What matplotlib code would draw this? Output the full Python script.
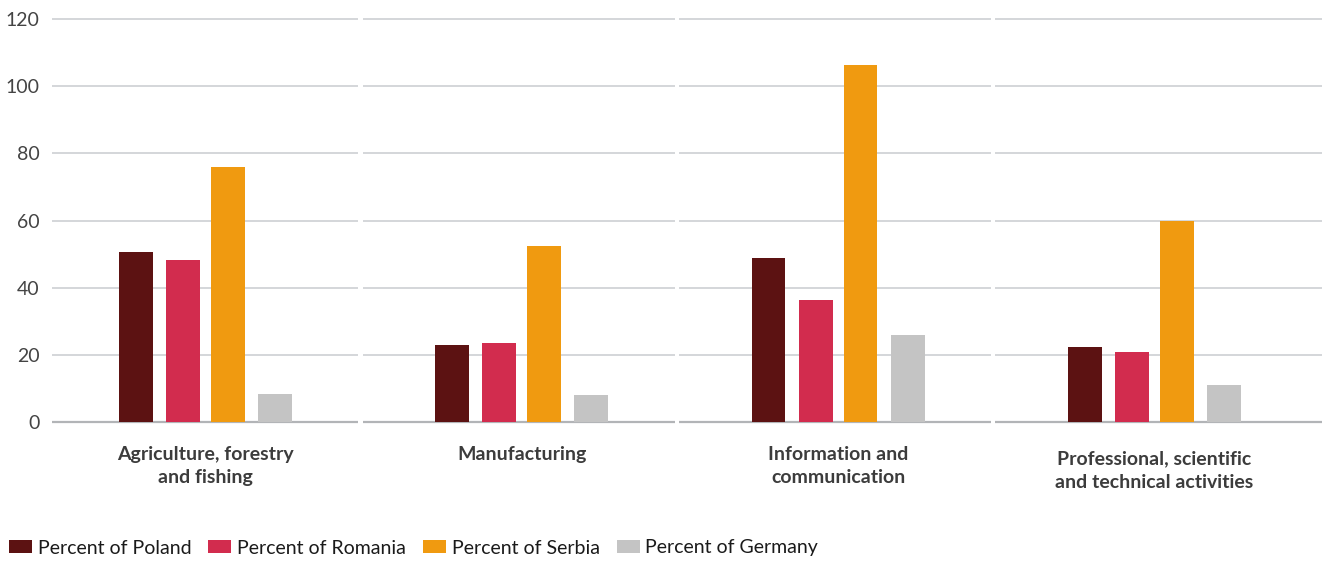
import matplotlib.pyplot as plt
import numpy as np
from matplotlib.transforms import ScaledTranslation

plt.rcParams["font.family"] = ["Lato", "DejaVu Sans"]

sectors = [
    "Agriculture, forestry\nand fishing",
    "Manufacturing",
    "Information and\ncommunication",
    "Professional, scientific\nand technical activities",
]
countries = ["Percent of Poland", "Percent of Romania", "Percent of Serbia", "Percent of Germany"]
poland = [50.6, 22.9, 48.8, 22.4]
romania = [48.2, 23.5, 36.3, 20.8]
serbia = [75.9, 52.4, 106.3, 59.9]
germany = [8.3, 8.0, 25.9, 11.0]
yticks = [0, 20, 40, 60, 80, 100, 120]

colors = ["#5c1212", "#d22c4e", "#f09a10", "#c4c4c4"]

fig = plt.figure(figsize=(13.22, 5.62), dpi=100)
ax = fig.add_axes([52 / 1322, 140 / 562, 1270 / 1322, 403 / 562])

x = np.arange(len(sectors))
width = 0.107
offsets = [-0.22, -0.071, 0.071, 0.22]
for vals, off, c, name in zip([poland, romania, serbia, germany], offsets, colors, countries):
    ax.bar(x + off, vals, width, color=c, label=name, zorder=3)

x0, x1 = -0.485, 3.53
ax.set_xlim(x0, x1)
ax.set_ylim(0, 120)

# gridlines broken at the edges of each sector band
gap = 0.007
edges = [x0] + [k + 0.49 for k in range(len(sectors) - 1)] + [x1]
for i in range(len(edges) - 1):
    a = edges[i] + (gap if i > 0 else 0)
    b = edges[i + 1] - (gap if i < len(edges) - 2 else 0)
    for t in yticks:
        col = "#b2b4b7" if t == 0 else "#cdd0d3"
        ax.hlines(t, a, b, color=col, lw=1.6 if t == 0 else 1.2, zorder=1, clip_on=False)

for s in ax.spines.values():
    s.set_visible(False)
ax.set_yticks(yticks)
ax.set_yticklabels([str(t) for t in yticks], fontsize=14, color="#444444")
ax.tick_params(axis="y", length=0, pad=9)
ax.set_xticks(x)
ax.set_xticklabels(sectors, fontsize=14, fontweight="bold", color="#3c3c3c", linespacing=1.45)
ax.tick_params(axis="x", length=0, pad=17)
# last label sits a little lower
last = ax.get_xticklabels()[-1]
last.set_transform(last.get_transform() + ScaledTranslation(0, -5 / 100, fig.dpi_scale_trans))

fig.legend(loc="center left", bbox_to_anchor=(9 / 1322, 1 - 548 / 562), ncol=4, frameon=False,
           fontsize=14, handlelength=1.18, handleheight=0.62, handletextpad=0.3,
           columnspacing=0.87, borderpad=0, borderaxespad=0, labelcolor="#1a1a1a")

fig.savefig("out.png", dpi=100)
